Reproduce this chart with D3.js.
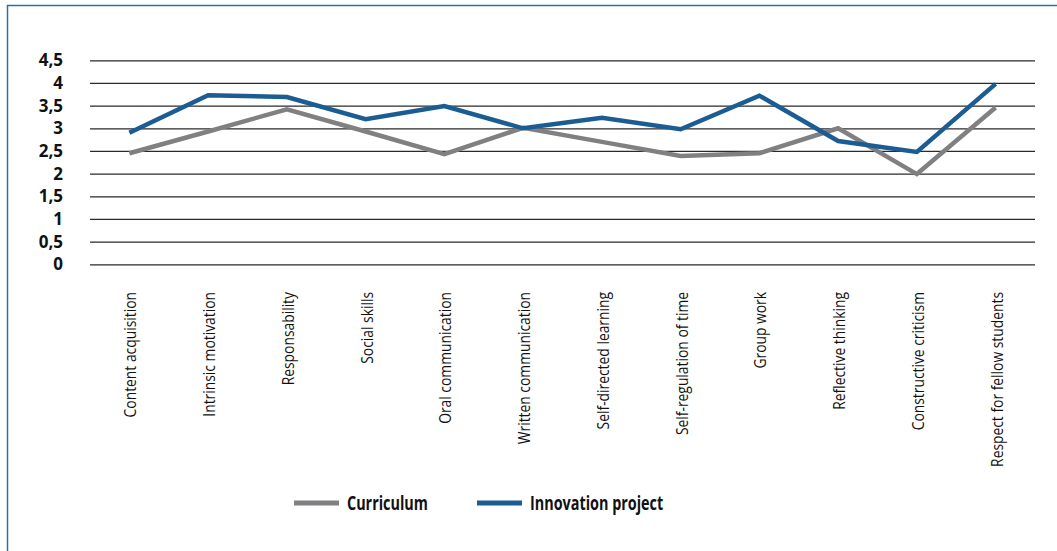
<!DOCTYPE html>
<html>
<head>
<meta charset="utf-8">
<script src="https://cdn.jsdelivr.net/npm/d3@7"></script>
<style>
  html, body { margin: 0; padding: 0; background: #fff; }
  svg { display: block; }
</style>
</head>
<body>
<svg id="chart" width="1057" height="551"></svg>
<script>
const categories = [
    "Content acquisition", "Intrinsic motivation", "Responsability", "Social skills",
    "Oral communication", "Written communication", "Self-directed learning",
    "Self-regulation of time", "Group work", "Reflective thinking",
    "Constructive criticism", "Respect for fellow students"
];
const curriculum = [2.45, 2.93, 3.42, 2.93, 2.43, 3.01, 2.70, 2.39, 2.45, 3.0, 1.99, 3.46];
const innovation = [2.90, 3.73, 3.69, 3.20, 3.49, 3.0, 3.23, 2.98, 3.72, 2.72, 2.48, 3.98];
const yTicks = [0, 0.5, 1, 1.5, 2, 2.5, 3, 3.5, 4, 4.5];
const seriesNames = ["Curriculum", "Innovation project"];

// no condensed face is installed, so a normal face is squeezed horizontally
const labelFont = "'Open Sans', 'Noto Sans', sans-serif";

let svg = d3.select("#chart"),
    plot = { left: 90, right: 1035, top: 60.3, bottom: 264.3 };

// frame (only top and left edges are visible in the picture)
svg.append("path")
    .attr("d", "M7.5,551 V5.5 H1057")
    .attr("fill", "none")
    .attr("stroke", "#2a6fb0")
    .attr("stroke-width", 1.5);

let x = d3.scalePoint()
    .domain(categories)
    .range([plot.left, plot.right])
    .padding(0.5);

let y = d3.scaleLinear()
    .domain([0, 4.5])
    .range([plot.bottom, plot.top]);

const fmt = d3.formatLocale({ decimal: ",", thousands: ".", grouping: [3], currency: ["", ""] }).format("~g");

// gridlines + y labels
let yAxis = svg.append("g")
    .attr("transform", "translate(" + plot.left + ",0)")
    .call(d3.axisLeft(y).tickValues(yTicks).tickFormat(fmt)
        .tickSize(-(plot.right - plot.left)).tickPadding(27));

yAxis.select(".domain").remove();
yAxis.selectAll(".tick line")
    .attr("stroke", "#2a2a2a")
    .attr("stroke-width", 1.3);
yAxis.selectAll(".tick text")
    .attr("fill", "#111")
    .style("font-family", "'Noto Sans', 'Open Sans', sans-serif")
    .style("font-weight", "bold")
    .style("font-size", "17px");

// x labels
let xAxis = svg.append("g")
    .attr("transform", "translate(0,292)")
    .call(d3.axisBottom(x).tickSize(0).tickPadding(0));

xAxis.select(".domain").remove();
xAxis.selectAll(".tick text")
    .attr("transform", "rotate(-90) scale(0.84,1)")
    .attr("text-anchor", "end")
    .attr("x", 0)
    .attr("y", 0)
    .attr("dx", 0)
    .attr("dy", "0.4em")
    .attr("fill", "#111")
    .style("font-family", labelFont)
    .style("font-size", "16.5px");

// lines
let line = d3.line()
    .x((d, i) => x(categories[i]))
    .y(d => y(d));

const colors = { "Curriculum": "#808083", "Innovation project": "#1b5c93" };

svg.append("path")
    .datum(curriculum)
    .attr("fill", "none")
    .attr("stroke", colors["Curriculum"])
    .attr("stroke-width", 4.5)
    .attr("d", line);

svg.append("path")
    .datum(innovation)
    .attr("fill", "none")
    .attr("stroke", colors["Innovation project"])
    .attr("stroke-width", 4.5)
    .attr("d", line);

// legend
let legendX = [294, 477];
let legend = svg.append("g").attr("class", "legend");
seriesNames.forEach(function (name, i) {
    let g = legend.append("g").attr("transform", "translate(" + legendX[i] + ",503)");
    g.append("line")
        .attr("x1", 0).attr("x2", 45)
        .attr("y1", 0).attr("y2", 0)
        .attr("stroke", colors[name])
        .attr("stroke-width", 5);
    g.append("text")
        .attr("transform", "translate(53,0) scale(0.72,1)")
        .attr("dy", "0.36em")
        .attr("fill", "#111")
        .style("font-family", labelFont)
        .style("font-weight", "bold")
        .style("font-size", "20px")
        .text(name);
});
</script>
</body>
</html>
